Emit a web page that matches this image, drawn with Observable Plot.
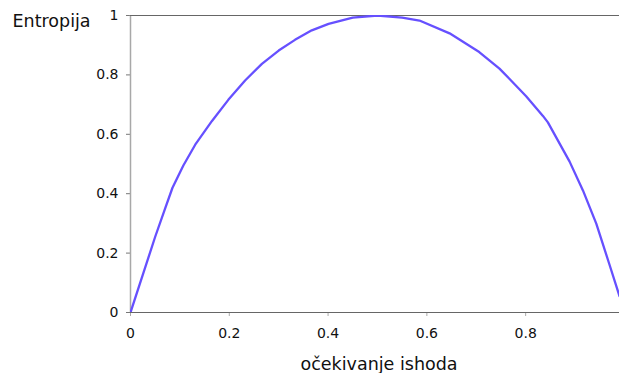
<!DOCTYPE html>
<html>
<head>
<meta charset="utf-8">
<script src="https://cdn.jsdelivr.net/npm/d3@7"></script>
<script src="https://cdn.jsdelivr.net/npm/@observablehq/plot@0.6"></script>
<style>
  html, body { margin: 0; padding: 0; background: #fff; }
</style>
</head>
<body>
<div id="chart"></div>
<script>
// Values
const pValues = [0, 0.05, 0.07, 0.085, 0.107, 0.131, 0.165, 0.198, 0.232, 0.266, 0.3, 0.333, 0.367, 0.401, 0.45, 0.5, 0.55, 0.585, 0.646, 0.706, 0.747, 0.767, 0.801, 0.835, 0.845, 0.889, 0.916, 0.943, 0.969, 0.99];
const entropyValues = [0, 0.255, 0.35, 0.42, 0.495, 0.565, 0.645, 0.716, 0.781, 0.837, 0.882, 0.918, 0.950, 0.972, 0.993, 1.0, 0.993, 0.983, 0.940, 0.877, 0.821, 0.787, 0.728, 0.662, 0.64, 0.508, 0.411, 0.299, 0.165, 0.055];
const xTicks = [0, 0.2, 0.4, 0.6, 0.8];
const yTicks = [0, 0.2, 0.4, 0.6, 0.8, 1];
const xTitle = "očekivanje ishoda";
const yTitle = "Entropija";

const data = pValues.map((p, i) => ({p, h: entropyValues[i]}));

const chart = Plot.plot({
  width: 619,
  height: 373,
  marginLeft: 130,
  marginRight: 0,
  marginTop: 15,
  marginBottom: 61,
  style: {fontFamily: "DejaVu Sans, Verdana, sans-serif", fontSize: "14px", background: "#fff", color: "#111"},
  x: {domain: [0, 0.99]},
  y: {domain: [0, 1]},
  marks: [
    Plot.axisY({ticks: yTicks, tickSize: 4, tickPadding: 8, stroke: "#777", fill: "#111", label: null, tickFormat: d => String(d)}),
    Plot.axisX({ticks: xTicks, tickSize: 4, tickPadding: 12, stroke: "#aaa", fill: "#111", label: null, tickFormat: d => String(d)}),
    Plot.ruleX([0], {stroke: "#a8a8a8", strokeWidth: 1.5}),
    Plot.ruleY([1], {stroke: "#666", strokeWidth: 1.2}),
    Plot.ruleY([0], {stroke: "#666", strokeWidth: 1.2}),
    Plot.line(data, {x: "p", y: "h", stroke: "#6650ff", strokeWidth: 2.3, curve: "linear", clip: true}),
    Plot.text([yTitle], {text: d => d, frameAnchor: "top-left", textAnchor: "start", dx: -118, dy: -1, fontSize: 17.5, fill: "#111"}),
    Plot.text([xTitle], {text: d => d, frameAnchor: "bottom", textAnchor: "middle", dx: 4, dy: 57, fontSize: 17.5, fill: "#111"})
  ]
});
document.getElementById("chart").appendChild(chart);
</script>
</body>
</html>
